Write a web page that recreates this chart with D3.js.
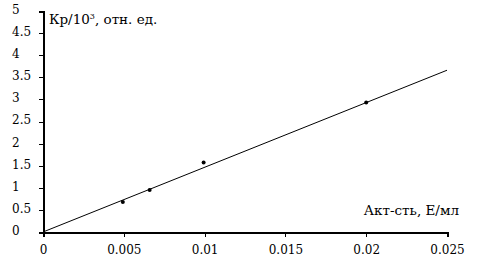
<!DOCTYPE html>
<html>
<head>
<meta charset="utf-8">
<script src="https://cdn.jsdelivr.net/npm/d3@7"></script>
<style>
body { margin: 0; background: #fff; }
svg { display: block; }
.axis path, .axis line { stroke: #000; shape-rendering: crispEdges; }
</style>
</head>
<body>
<div class="target"></div>
<script>
var activity = [0.00494, 0.0066, 0.00994, 0.02];
var ratio = [0.68, 0.95, 1.57, 2.93];
var trendX = [0, 0.025];
var trendY = [0, 3.66];
var xTicks = [0, 0.005, 0.01, 0.015, 0.02, 0.025];
var yTicks = [0, 0.5, 1, 1.5, 2, 2.5, 3, 3.5, 4, 4.5, 5];

// Liberation Serif is missing in the sandbox, DejaVu Serif is the only serif
var serif = 'DejaVu Serif';

var margin = {top: 11, right: 42, bottom: 42, left: 43},
  width = 489 - margin.left - margin.right,
  height = 274 - margin.top - margin.bottom;

var root = d3.select('.target').append('svg')
    .attr('width', 489)
    .attr('height', 274)
    .attr('font-family', serif)
    .attr('font-size', 13.5);
var svg = root.append('g')
    .attr('transform', 'translate(' + margin.left + ',' + margin.top + ')');

var x = d3.scaleLinear().domain([0, 0.025]).range([0, width]);
var y = d3.scaleLinear().domain([0, 5]).range([height, 0]);

var xAxis = svg.append('g')
  .attr('class', 'x axis')
  .attr('transform', 'translate(0,' + height + ')')
  .call(d3.axisBottom(x).tickValues(xTicks).tickSize(5).tickSizeOuter(5)
    .tickFormat(function(d) { return d === 0 ? '0' : String(+d.toFixed(3)); }));
xAxis.attr('font-family', serif).attr('font-size', 12);
xAxis.select('.domain').attr('stroke-width', 2);
xAxis.selectAll('text').attr('dy', '1.15em');

var yAxis = svg.append('g')
  .attr('class', 'y axis')
  .call(d3.axisLeft(y).tickValues(yTicks).tickSize(4).tickSizeOuter(4)
    .tickFormat(function(d) { return String(d); }));
yAxis.attr('font-family', serif).attr('font-size', 12);
yAxis.select('.domain').attr('stroke-width', 2);
// tick labels are left aligned in the original
yAxis.selectAll('text').attr('x', -31).attr('text-anchor', 'start').attr('dy', '0.2em');

// trend line
svg.append('line')
  .attr('x1', x(trendX[0])).attr('y1', y(trendY[0]))
  .attr('x2', x(trendX[1])).attr('y2', y(trendY[1]))
  .attr('stroke', '#000').attr('stroke-width', 1);

svg.selectAll('.pt')
  .data(activity)
  .enter().append('circle')
    .attr('class', 'pt')
    .attr('cx', function(d) { return x(d); })
    .attr('cy', function(d, i) { return y(ratio[i]); })
    .attr('r', 2)
    .attr('fill', '#000');

var yl = svg.append('text').attr('x', 6).attr('y', 13);
yl.append('tspan').text('Кр/10');
yl.append('tspan').attr('dy', -5).attr('font-size', 8).text('3');
yl.append('tspan').attr('dy', 5).text(', отн. ед.');

svg.append('text')
  .attr('x', 416).attr('y', 204)
  .attr('text-anchor', 'end')
  .text('Акт-сть, Е/мл');
</script>
</body>
</html>
